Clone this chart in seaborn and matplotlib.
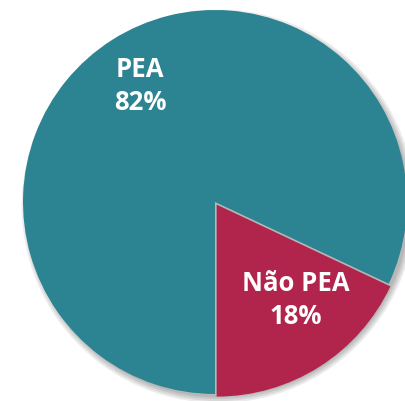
import matplotlib.pyplot as plt
import seaborn as sns

# dados
categorias = ["Não PEA", "PEA"]
percentuais = [18, 82]
cores = ["#B1244C", "#2C8493"]

sns.set_theme(style="white")
plt.rcParams['font.family'] = ['Open Sans', 'DejaVu Sans']

fig = plt.figure(figsize=(4.05, 4.02), dpi=100)
ax = fig.add_axes([23 / 405, 7 / 402, 384 / 405, 384 / 402])

# sombra suave (varias camadas)
for r in [0.995, 1.005, 1.015, 1.025]:
    ax.pie(percentuais, startangle=-90, counterclock=True, radius=r,
           center=(0.018, -0.022), colors=["#000000"] * 2,
           wedgeprops=dict(linewidth=0, alpha=0.08))

wedges, _ = ax.pie(percentuais, startangle=-90, counterclock=True,
                   colors=cores, explode=[0.016, 0],
                   wedgeprops=dict(linewidth=0))

# rotulos
posicoes = {"PEA": (-0.39, 0.61), "Não PEA": (0.42, -0.505)}
for nome, pct in zip(categorias, percentuais):
    x, y = posicoes[nome]
    ax.text(x, y, f"{nome}\n{pct}%", ha="center", va="center", color="white",
            fontsize=18.5, fontweight="bold", linespacing=1.3)

ax.set_xlim(-1, 1)
ax.set_ylim(-1, 1)
ax.set_aspect("equal")
ax.axis("off")

fig.savefig("out.png", dpi=100, facecolor="white")
